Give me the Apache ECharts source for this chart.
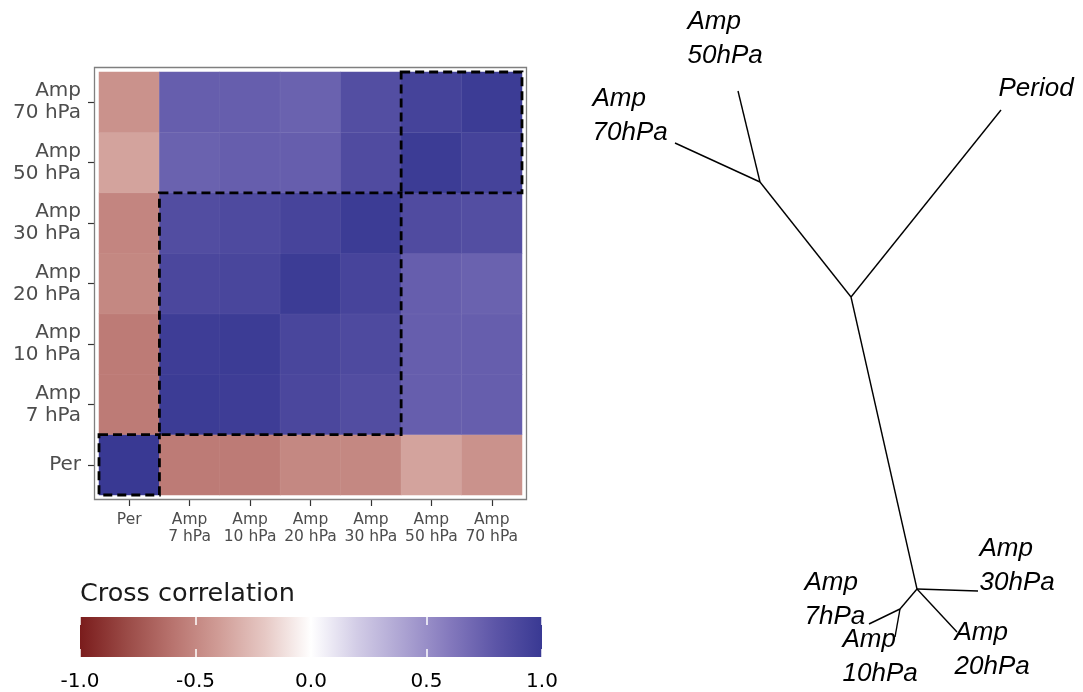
<!DOCTYPE html>
<html>
<head>
<meta charset="utf-8">
<script src="https://cdn.jsdelivr.net/npm/echarts@6/dist/echarts.min.js"></script>
<style>
  html, body { margin: 0; padding: 0; background: #fff; }
  #chart { width: 1083px; height: 692px; }
</style>
</head>
<body>
<div id="chart"></div>
<script>
// 热图的行列标签（自下而上 / 自左而右）
const xLabels = ['Per', 'Amp\n7 hPa', 'Amp\n10 hPa', 'Amp\n20 hPa', 'Amp\n30 hPa', 'Amp\n50 hPa', 'Amp\n70 hPa'];
const yLabels = ['Per', 'Amp\n7 hPa', 'Amp\n10 hPa', 'Amp\n20 hPa', 'Amp\n30 hPa', 'Amp\n50 hPa', 'Amp\n70 hPa'];

// 相关系数矩阵，第一行是最下面的 Per
const corr = [
  [1.00, -0.56, -0.56, -0.50, -0.50, -0.37, -0.45],
  [-0.56, 0.98, 0.97, 0.90, 0.86, 0.75, 0.75],
  [-0.56, 0.97, 0.98, 0.91, 0.88, 0.75, 0.75],
  [-0.50, 0.90, 0.91, 0.98, 0.92, 0.75, 0.73],
  [-0.51, 0.86, 0.88, 0.92, 0.98, 0.87, 0.85],
  [-0.37, 0.73, 0.75, 0.75, 0.87, 0.98, 0.93],
  [-0.45, 0.75, 0.75, 0.73, 0.85, 0.93, 0.98]
];

// 虚线框：[起始列, 结束列, 起始行, 结束行]
const blocks = [[0, 0, 0, 0], [1, 4, 1, 4], [5, 6, 5, 6]];

// 色标
const legendMin = -1;
const legendMax = 1;
const legendStep = 0.5;
const colorStops = ['#7a1c1c', '#9a4a46', '#b8736e', '#d09c96', '#e6c8c4', '#ffffff',
  '#d2cce6', '#aca3d2', '#8479bd', '#5c55a7', '#393993'];

// 无根树：节点坐标（树布局单位）
const treeNodes = {
  A: [0, 0],
  B: [-0.91, 1.15],
  C: [0.66, -2.92],
  D: [0.49, -3.12],
  Period: [1.50, 1.87],
  Amp50: [-1.13, 2.06],
  Amp70: [-1.76, 1.54],
  Amp30: [1.27, -2.94],
  Amp20: [1.06, -3.35],
  Amp7: [0.18, -3.27],
  Amp10: [0.44, -3.40]
};
const treeEdges = [['A', 'Period'], ['A', 'B'], ['B', 'Amp50'], ['B', 'Amp70'], ['A', 'C'],
  ['C', 'Amp30'], ['C', 'Amp20'], ['C', 'D'], ['D', 'Amp7'], ['D', 'Amp10']];
const tipNames = ['Period', 'Amp50', 'Amp70', 'Amp30', 'Amp20', 'Amp7', 'Amp10'];
const tipLabels = ['Period', 'Amp\n50hPa', 'Amp\n70hPa', 'Amp\n30hPa', 'Amp\n20hPa', 'Amp\n7hPa', 'Amp\n10hPa'];

// 标签相对叶节点的偏移（像素）
const tipLabelOffset = {
  Period: [-2, -21],
  Amp50: [-50, -52],
  Amp70: [-82, -27],
  Amp30: [2, -25],
  Amp20: [-2, 18],
  Amp7: [-64, -24],
  Amp10: [-52, 20]
};

const chart = echarts.init(document.getElementById('chart'));

const heatData = [];
corr.forEach((row, yi) => row.forEach((v, xi) => heatData.push([xi, yi, v])));

const axisFont = 'DejaVu Sans';

const option = {
  backgroundColor: '#fff',
  animation: false,
  title: {
    text: 'Cross correlation',
    left: 80,
    top: 581,
    padding: 0,
    textStyle: { fontFamily: axisFont, fontSize: 25.5, fontWeight: 'normal', color: '#1a1a1a' }
  },
  grid: [
    { left: 99, top: 72, width: 423, height: 423, outerBoundsMode: 'none' },
    { left: 570, top: 0, width: 510, height: 692, outerBoundsMode: 'none' },
    { left: 80, top: 617, width: 462, height: 40, outerBoundsMode: 'none' }
  ],
  xAxis: [
    {
      type: 'category', gridIndex: 0, data: xLabels, offset: 5,
      axisLine: { show: false },
      axisTick: { show: true, alignWithLabel: true, length: 6, lineStyle: { color: '#333', width: 1.2 } },
      axisLabel: { margin: 12, fontFamily: axisFont, fontSize: 15.5, lineHeight: 16.5, color: '#4d4d4d', interval: 0 },
      splitLine: { show: false }
    },
    { type: 'value', gridIndex: 1, min: -2.81, max: 2.29, show: false },
    {
      type: 'value', gridIndex: 2, min: legendMin, max: legendMax, interval: legendStep, z: 10,
      axisLine: { show: false },
      axisTick: { show: true, inside: true, length: 8, lineStyle: { color: '#fff', width: 1.5 } },
      axisLabel: { margin: 15, fontFamily: axisFont, fontSize: 20, color: '#000', formatter: v => v.toFixed(1) },
      splitLine: { show: false }
    },
    {
      type: 'value', gridIndex: 2, position: 'top', min: legendMin, max: legendMax, interval: legendStep, z: 10,
      axisLine: { show: false },
      axisTick: { show: true, inside: true, length: 8, lineStyle: { color: '#fff', width: 1.5 } },
      axisLabel: { show: false },
      splitLine: { show: false }
    }
  ],
  yAxis: [
    {
      type: 'category', gridIndex: 0, data: yLabels, offset: 5,
      axisLine: { show: false },
      axisTick: { show: true, alignWithLabel: true, length: 6, lineStyle: { color: '#333', width: 1.2 } },
      axisLabel: { margin: 13, fontFamily: axisFont, fontSize: 20, lineHeight: 22, color: '#4d4d4d', align: 'right', interval: 0 },
      splitLine: { show: false }
    },
    { type: 'value', gridIndex: 1, min: -3.95, max: 2.97, show: false },
    { type: 'value', gridIndex: 2, min: 0, max: 1, show: false }
  ],
  visualMap: {
    type: 'continuous',
    show: false,
    seriesIndex: 0,
    min: legendMin,
    max: legendMax,
    inRange: { color: colorStops }
  },
  graphic: [
    {
      type: 'rect',
      shape: { x: 94.5, y: 67.5, width: 432, height: 432 },
      style: { fill: 'none', stroke: '#7f7f7f', lineWidth: 1.3 },
      z: 5
    }
  ],
  series: [
    {
      type: 'heatmap',
      xAxisIndex: 0,
      yAxisIndex: 0,
      data: heatData,
      itemStyle: { borderColor: 'rgba(255,255,255,0.08)', borderWidth: 0.6 },
      emphasis: { disabled: true }
    },
    {
      type: 'custom',
      xAxisIndex: 0,
      yAxisIndex: 0,
      data: blocks,
      z: 6,
      renderItem: (params, api) => {
        const p0 = api.coord([api.value(0), api.value(2)]);
        const p1 = api.coord([api.value(1), api.value(3)]);
        const s = api.size([1, 1]);
        return {
          type: 'rect',
          shape: {
            x: p0[0] - s[0] / 2,
            y: p1[1] - s[1] / 2,
            width: p1[0] - p0[0] + s[0],
            height: p0[1] - p1[1] + s[1]
          },
          style: { fill: 'none', stroke: '#000', lineWidth: 2.8, lineDash: [9, 5] }
        };
      }
    },
    {
      // 色标条
      type: 'custom',
      xAxisIndex: 2,
      yAxisIndex: 2,
      data: [[legendMin, legendMax]],
      z: 2,
      silent: true,
      renderItem: (params, api) => {
        const p0 = api.coord([api.value(0), 0]);
        const p1 = api.coord([api.value(1), 1]);
        const n = colorStops.length - 1;
        return {
          type: 'rect',
          shape: { x: p0[0], y: p1[1], width: p1[0] - p0[0], height: p0[1] - p1[1] },
          style: {
            fill: new echarts.graphic.LinearGradient(0, 0, 1, 0,
              colorStops.map((c, i) => ({ offset: i / n, color: c })))
          }
        };
      }
    },
    {
      type: 'lines',
      coordinateSystem: 'cartesian2d',
      xAxisIndex: 1,
      yAxisIndex: 1,
      data: treeEdges.map(e => ({ coords: [treeNodes[e[0]], treeNodes[e[1]]] })),
      lineStyle: { color: '#000', width: 1.4, opacity: 1, curveness: 0 },
      silent: true
    },
    {
      type: 'scatter',
      xAxisIndex: 1,
      yAxisIndex: 1,
      symbolSize: 1,
      itemStyle: { color: 'transparent' },
      silent: true,
      data: tipNames.map((n, i) => ({
        name: tipLabels[i],
        value: treeNodes[n],
        label: { position: tipLabelOffset[n] }
      })),
      label: {
        show: true,
        formatter: p => p.name,
        align: 'left',
        verticalAlign: 'middle',
        fontFamily: 'Liberation Sans',
        fontStyle: 'italic',
        fontSize: 26,
        lineHeight: 34,
        color: '#000',
        opacity: 1
      }
    }
  ]
};

chart.setOption(option);
</script>
</body>
</html>
